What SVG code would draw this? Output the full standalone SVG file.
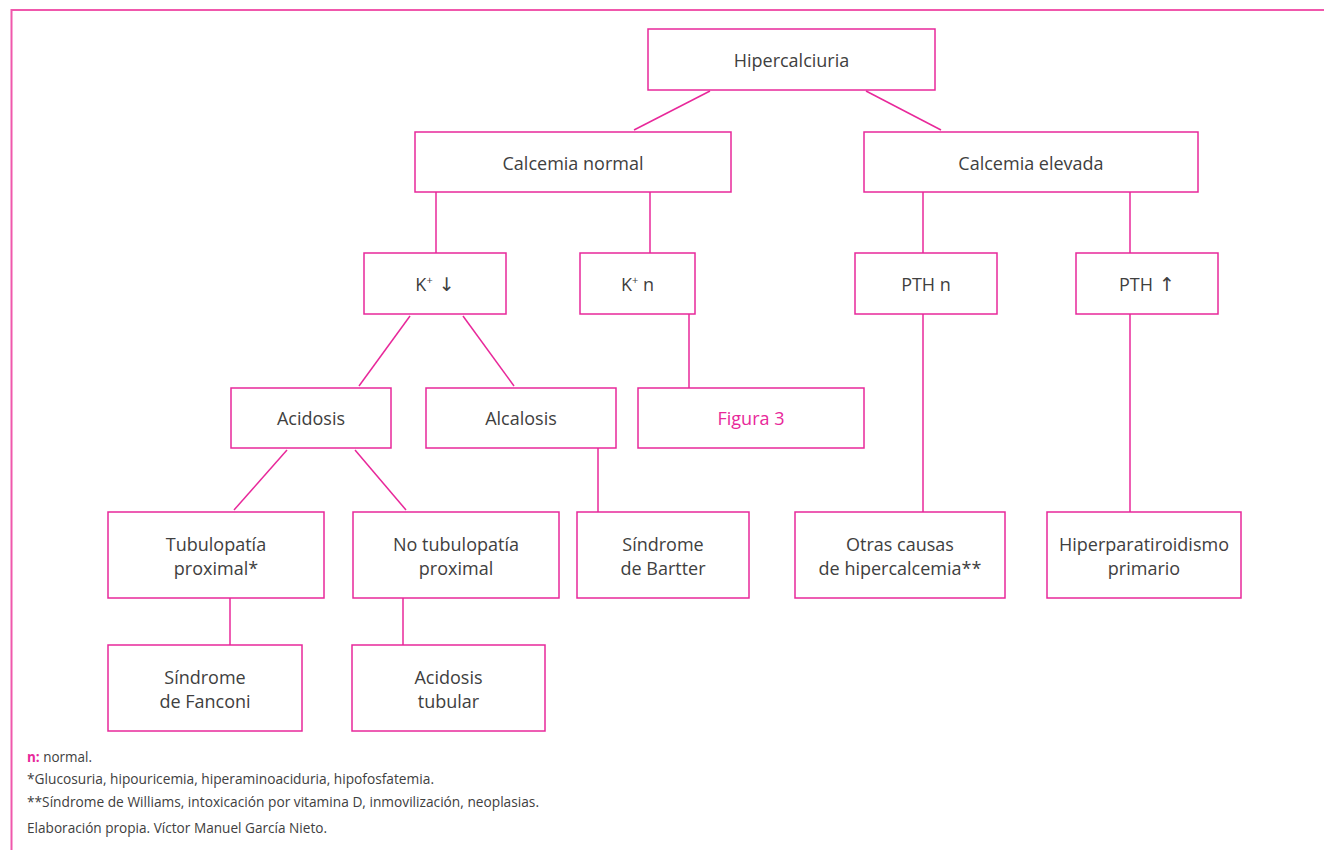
<svg xmlns="http://www.w3.org/2000/svg" width="1324" height="850" viewBox="0 0 1324 850">
<style>
.b{fill:#fff;stroke:#e8289a;stroke-width:1.5}
.t{font-family:"Open Sans","Noto Sans",sans-serif;font-size:18px;fill:#404040;text-anchor:middle}
.c line{stroke:#e8289a;stroke-width:1.5}
.f{font-family:"Open Sans","Noto Sans",sans-serif;font-size:15px;fill:#404040}
.ar{font-family:"DejaVu Sans",sans-serif;font-size:19px}
</style>
<rect width="1324" height="850" fill="#fff"/>
<path d="M11.5 850 V10 H1324" fill="none" stroke="#f058ac" stroke-width="2"/>
<g class="c" id="connectors">
<line x1="710" y1="91" x2="634" y2="130"/>
<line x1="866" y1="91" x2="941" y2="130"/>
<line x1="436" y1="192" x2="436" y2="253"/>
<line x1="650" y1="192" x2="650" y2="253"/>
<line x1="923" y1="192" x2="923" y2="253"/>
<line x1="1130" y1="192" x2="1130" y2="253"/>
<line x1="410" y1="316" x2="359" y2="386"/>
<line x1="463" y1="316" x2="514" y2="386"/>
<line x1="689" y1="314" x2="689" y2="388"/>
<line x1="923" y1="314" x2="923" y2="512"/>
<line x1="1130" y1="314" x2="1130" y2="512"/>
<line x1="287" y1="450" x2="234" y2="510"/>
<line x1="355" y1="450" x2="406" y2="510"/>
<line x1="598" y1="448" x2="598" y2="512"/>
<line x1="230" y1="598" x2="230" y2="645"/>
<line x1="403" y1="598" x2="403" y2="645"/>
</g>
<g id="hipercalciuria"><rect class="b" x="648" y="29" width="287" height="61"/><text class="t" x="791.5" y="67">Hipercalciuria</text></g>
<g id="calcemia-normal"><rect class="b" x="415" y="132" width="316" height="60"/><text class="t" x="573" y="170">Calcemia normal</text></g>
<g id="calcemia-elevada"><rect class="b" x="864" y="132" width="334" height="60"/><text class="t" x="1031" y="170">Calcemia elevada</text></g>
<g id="k-bajo"><rect class="b" x="364" y="253" width="142" height="61"/><text class="t" x="435" y="291">K<tspan font-size="11" dy="-7">+</tspan><tspan dy="7" class="ar"> ↓</tspan></text></g>
<g id="k-normal"><rect class="b" x="580" y="253" width="115" height="61"/><text class="t" x="637.5" y="291">K<tspan font-size="11" dy="-7">+</tspan><tspan dy="7"> n</tspan></text></g>
<g id="pth-normal"><rect class="b" x="855" y="253" width="142" height="61"/><text class="t" x="926" y="291">PTH n</text></g>
<g id="pth-alta"><rect class="b" x="1076" y="253" width="142" height="61"/><text class="t" x="1147" y="291">PTH<tspan class="ar"> ↑</tspan></text></g>
<g id="acidosis"><rect class="b" x="231" y="388" width="160" height="60"/><text class="t" x="311" y="425">Acidosis</text></g>
<g id="alcalosis"><rect class="b" x="426" y="388" width="190" height="60"/><text class="t" x="521" y="425">Alcalosis</text></g>
<g id="figura3"><rect class="b" x="638" y="388" width="226" height="60"/><text class="t" x="751" y="425" style="fill:#e8289a">Figura 3</text></g>
<g id="tubulopatia"><rect class="b" x="108" y="512" width="216" height="86"/><text class="t" x="216" y="551">Tubulopatía</text><text class="t" x="216" y="575">proximal*</text></g>
<g id="no-tubulopatia"><rect class="b" x="353" y="512" width="206" height="86"/><text class="t" x="456" y="551">No tubulopatía</text><text class="t" x="456" y="575">proximal</text></g>
<g id="bartter"><rect class="b" x="577" y="512" width="172" height="86"/><text class="t" x="663" y="551">Síndrome</text><text class="t" x="663" y="575">de Bartter</text></g>
<g id="otras"><rect class="b" x="795" y="512" width="210" height="86"/><text class="t" x="900" y="551">Otras causas</text><text class="t" x="900" y="575">de hipercalcemia**</text></g>
<g id="hiperpara"><rect class="b" x="1047" y="512" width="194" height="86"/><text class="t" x="1144" y="551">Hiperparatiroidismo</text><text class="t" x="1144" y="575">primario</text></g>
<g id="fanconi"><rect class="b" x="108" y="645" width="194" height="86"/><text class="t" x="205" y="684">Síndrome</text><text class="t" x="205" y="708">de Fanconi</text></g>
<g id="acidosis-tubular"><rect class="b" x="352" y="645" width="193" height="86"/><text class="t" x="448.5" y="684">Acidosis</text><text class="t" x="448.5" y="708">tubular</text></g>
<text class="f" x="27" y="762" textLength="65" lengthAdjust="spacingAndGlyphs"><tspan fill="#e8289a" font-weight="bold">n:</tspan> normal.</text>
<text class="f" x="27" y="784" textLength="407" lengthAdjust="spacingAndGlyphs">*Glucosuria, hipouricemia, hiperaminoaciduria, hipofosfatemia.</text>
<text class="f" x="27" y="807" textLength="512" lengthAdjust="spacingAndGlyphs">**Síndrome de Williams, intoxicación por vitamina D, inmovilización, neoplasias.</text>
<text class="f" x="27" y="833" textLength="300" lengthAdjust="spacingAndGlyphs">Elaboración propia. Víctor Manuel García Nieto.</text>
</svg>
